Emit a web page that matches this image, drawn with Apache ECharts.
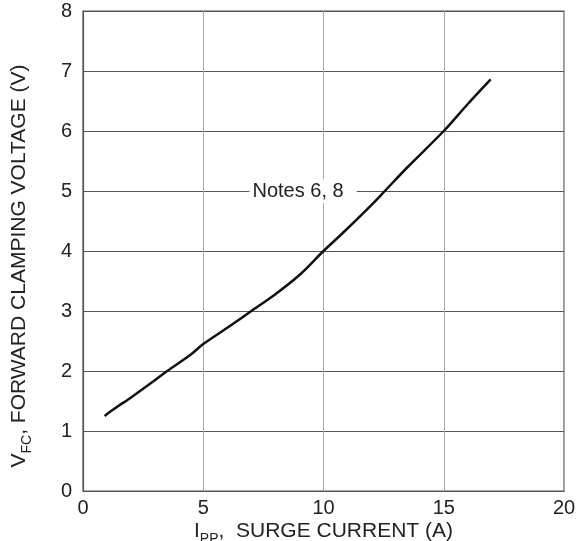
<!DOCTYPE html>
<html><head><meta charset="utf-8">
<script src="https://cdn.jsdelivr.net/npm/echarts@6/dist/echarts.min.js"></script>
<style>html,body{margin:0;padding:0;background:#fff}#c{width:579px;height:541px}</style>
</head><body><div id="c"></div>
<script>
const surgeCurrent = [0.9, 1.3, 2, 3, 3.5, 4.5, 5, 6, 7, 8, 9, 10, 10.8, 12, 12.55, 13.5, 15, 16, 16.95];
const clampVoltage = [1.25, 1.37, 1.56, 1.85, 2.0, 2.28, 2.45, 2.72, 3.0, 3.28, 3.6, 4.0, 4.3, 4.77, 5.0, 5.4, 6.0, 6.45, 6.86];
const xTicks = [0, 5, 10, 15, 20];
const yTicks = [0, 1, 2, 3, 4, 5, 6, 7, 8];
const noteText = 'Notes 6, 8';
const notePos = [9.15, 5];

const font = '"Liberation Sans", Arial, Helvetica, sans-serif';
const chart = echarts.init(document.getElementById('c'), null, {renderer: 'canvas'});
const titleRich = (big) => ({
  [big]: {fontSize: 21, fontFamily: font, color: '#222', verticalAlign: 'top', lineHeight: 22},
  s: {fontSize: 14, fontFamily: font, color: '#222', verticalAlign: 'top', lineHeight: 22, padding: [11, 0, 0, 0]},
  t: {fontSize: 21, fontFamily: font, color: '#222', verticalAlign: 'top', lineHeight: 22}
});
chart.setOption({
  animation: false,
  grid: {left: 83, top: 11, width: 481, height: 480, show: true, borderColor: '#555', borderWidth: 1.2, containLabel: false, outerBoundsMode: 'none'},
  xAxis: {
    type: 'value', min: xTicks[0], max: xTicks[xTicks.length - 1], interval: 5,
    name: '{i|I}{s|PP}{t|,  SURGE CURRENT (A)}',
    nameLocation: 'middle', nameGap: 30, nameMoveOverlap: false,
    nameTextStyle: {rich: titleRich('i')},
    axisLine: {show: true, lineStyle: {color: '#555', width: 1.2}},
    axisTick: {show: false},
    axisLabel: {fontSize: 20, fontFamily: font, color: '#222', margin: 7},
    splitLine: {show: true, lineStyle: {color: '#aaa', width: 1}}
  },
  yAxis: {
    type: 'value', min: yTicks[0], max: yTicks[yTicks.length - 1], interval: 1,
    name: '{v|V}{s|FC}{t|, FORWARD CLAMPING VOLTAGE (V)}',
    nameLocation: 'middle', nameGap: 52, nameRotate: 90, nameMoveOverlap: false,
    nameTextStyle: {rich: titleRich('v'), padding: [0, 30, 0, 0]},
    axisLine: {show: true, lineStyle: {color: '#555', width: 1.2}},
    axisTick: {show: false},
    axisLabel: {fontSize: 20, fontFamily: font, color: '#222', margin: 11},
    splitLine: {show: true, lineStyle: {color: '#555', width: 1}}
  },
  series: [{
    type: 'line',
    data: surgeCurrent.map((x, i) => [x, clampVoltage[i]]),
    smooth: 0.3,
    showSymbol: false,
    lineStyle: {color: '#111', width: 2.5},
    markPoint: {
      symbol: 'rect', symbolSize: 0,
      data: [{coord: notePos, value: noteText}],
      label: {
        show: true, position: 'inside', formatter: noteText,
        fontSize: 20, fontFamily: font, color: '#222',
        backgroundColor: '#fff', padding: [2, 13, 2, 3]
      }
    }
  }]
});
</script></body></html>
